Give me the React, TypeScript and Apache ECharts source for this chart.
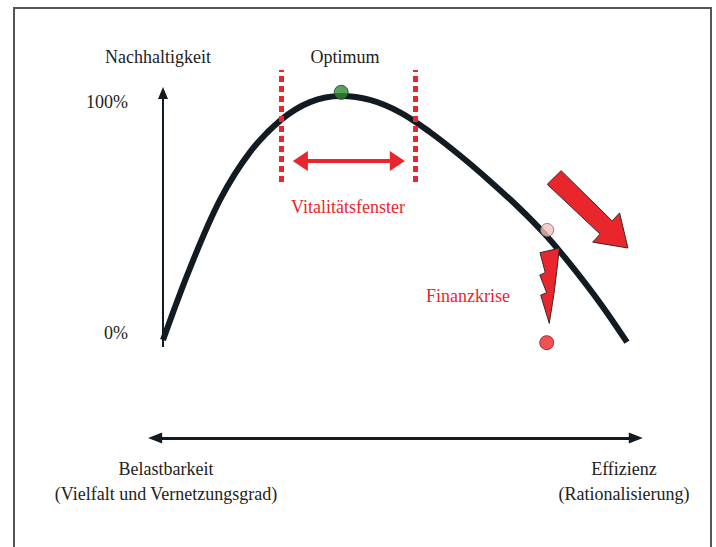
import React, { useEffect, useRef } from "react";
import * as echarts from "echarts";

// Curve: Nachhaltigkeit (%) vs. position between Belastbarkeit (0) and Effizienz (100)
const curveX = [0, 5.82, 12.28, 18.75, 25.43, 31.68, 38.36, 44.61, 51.08, 57.54, 64.01, 70.47, 76.94, 82.33, 87.72, 94.18, 100];
const curveY = [0, 29.5, 57.4, 77.0, 90.2, 97.5, 100, 98.4, 93.3, 85.2, 75.6, 65.1, 53.8, 43.3, 31.2, 15.2, -0.9];

// Marker dots
const optimumPoint = [38.4, 101.5];
const crisisBefore = [82.8, 45.1];
const crisisAfter = [82.7, -1.1];

// Vitalitätsfenster bounds
const windowX = [25.4, 54.3];
const windowY = [64.8, 110.7];
const windowArrow = { x1: 29.6, x2: 50.5, y: 73.4 };

// Axes arrows
const yArrow = { x: 0, y1: -2.9, y2: 101.2 };
const xArrow = { x1: -1.7, x2: 101.9, y: -40.2 };

// Shapes (data coordinates)
const boltShape = [
  [81.25, 35.8], [85.41, 37.6], [84.85, 28.0], [84.27, 19.1], [83.25, 6.8],
  [81.4, 18.4], [82.69, 19.4], [81.2, 26.6], [82.39, 27.6],
];
const bigArrowShape = [
  [82.8, 63.8], [94.2, 43.4], [92.6, 40.1], [100.2, 37.7], [98.4, 52.1], [96.8, 48.8], [85.8, 69.4],
];

const RED = "#e8262b";
const DARK = "#121a22";
const FONT = '18px "Liberation Serif", "DejaVu Serif", serif';

function arrowSeries(
  p1: number[],
  p2: number[],
  symbols: string[],
  size: number[],
  color: string,
  width: number,
  type: any = "solid"
) {
  return {
    type: "line",
    data: [],
    silent: true,
    markLine: {
      silent: true,
      animation: false,
      symbol: symbols,
      symbolSize: size,
      label: { show: false },
      emphasis: { disabled: true },
      lineStyle: { color, width, type, opacity: 1 },
      data: [[{ coord: p1 }, { coord: p2 }]],
    },
  };
}

export default function App() {
  const ref = useRef<HTMLDivElement>(null);
  useEffect(() => {
    if (!ref.current) return;
    const chart = echarts.init(ref.current, null, { renderer: "svg" });
    const shapes = [
      { pts: bigArrowShape, fill: RED },
      { pts: boltShape, fill: RED },
    ];
    const option: any = {
      animation: false,
      grid: { left: 116.6, top: 47.2, width: 556.8, height: 414.8 },
      xAxis: { type: "value", min: -10, max: 110, show: false },
      yAxis: { type: "value", min: -50, max: 120, show: false },
      series: [
        arrowSeries([yArrow.x, yArrow.y1], [yArrow.x, yArrow.y2], ["none", "triangle"], [10, 12], DARK, 2),
        arrowSeries([xArrow.x1, xArrow.y], [xArrow.x2, xArrow.y], ["triangle", "triangle"], [11, 14], DARK, 3),
        arrowSeries([windowX[0], windowY[0]], [windowX[0], windowY[1]], ["none", "none"], [1, 1], RED, 5, [6, 4]),
        arrowSeries([windowX[1], windowY[0]], [windowX[1], windowY[1]], ["none", "none"], [1, 1], RED, 5, [6, 4]),
        arrowSeries([windowArrow.x1, windowArrow.y], [windowArrow.x2, windowArrow.y], ["triangle", "triangle"], [20, 15], RED, 4),
        {
          type: "line",
          data: curveX.map((x, i) => [x, curveY[i]]),
          smooth: 0.35,
          showSymbol: false,
          silent: true,
          clip: false,
          lineStyle: { color: DARK, width: 6 },
          z: 3,
        },
        {
          type: "custom",
          silent: true,
          clip: false,
          z: 4,
          data: shapes.map((_, i) => [i, 0]),
          renderItem: (params: any, api: any) => {
            const s = shapes[params.dataIndex];
            return {
              type: "polygon",
              shape: { points: s.pts.map((p) => api.coord(p)) },
              style: { fill: s.fill, stroke: "#3a2a2a", lineWidth: 1 },
            };
          },
        },
        {
          type: "scatter",
          silent: true,
          z: 5,
          symbolSize: 14,
          data: [
            { value: optimumPoint, itemStyle: { color: "#2e8a2e", borderColor: "#1e3a1e", borderWidth: 1 } },
            { value: crisisBefore, symbolSize: 13, itemStyle: { color: "#f3c2bd", borderColor: "#7a6a68", borderWidth: 1 } },
            { value: crisisAfter, itemStyle: { color: RED, borderColor: "#a01010", borderWidth: 1 } },
          ],
        },
      ],
      graphic: [
        {
          type: "rect",
          shape: { x: 14, y: 8, width: 697, height: 600 },
          style: { fill: "none", stroke: "#555", lineWidth: 2 },
          silent: true,
        },
        ...[
          { t: "Nachhaltigkeit", x: 158, y: 57, c: "#222", a: "center" },
          { t: "Optimum", x: 345, y: 57, c: "#222", a: "center" },
          { t: "100%", x: 128, y: 102, c: "#222", a: "right" },
          { t: "0%", x: 128, y: 333, c: "#222", a: "right" },
          { t: "Vitalitätsfenster", x: 348, y: 207, c: RED, a: "center" },
          { t: "Finanzkrise", x: 468, y: 296, c: RED, a: "center" },
          { t: "Belastbarkeit", x: 166, y: 469, c: "#222", a: "center" },
          { t: "(Vielfalt und Vernetzungsgrad)", x: 166, y: 494, c: "#222", a: "center" },
          { t: "Effizienz", x: 624, y: 469, c: "#222", a: "center" },
          { t: "(Rationalisierung)", x: 624, y: 494, c: "#222", a: "center" },
        ].map((d) => ({
          type: "text",
          silent: true,
          x: d.x,
          y: d.y,
          style: {
            text: d.t,
            fill: d.c,
            font: FONT,
            textAlign: d.a,
            textVerticalAlign: "middle",
          },
        })),
      ],
    };
    chart.setOption(option);
    return () => chart.dispose();
  }, []);
  return (
    <div
      ref={ref}
      style={{ position: "fixed", left: 0, top: 0, width: 716, height: 547, background: "#fff" }}
    />
  );
}
